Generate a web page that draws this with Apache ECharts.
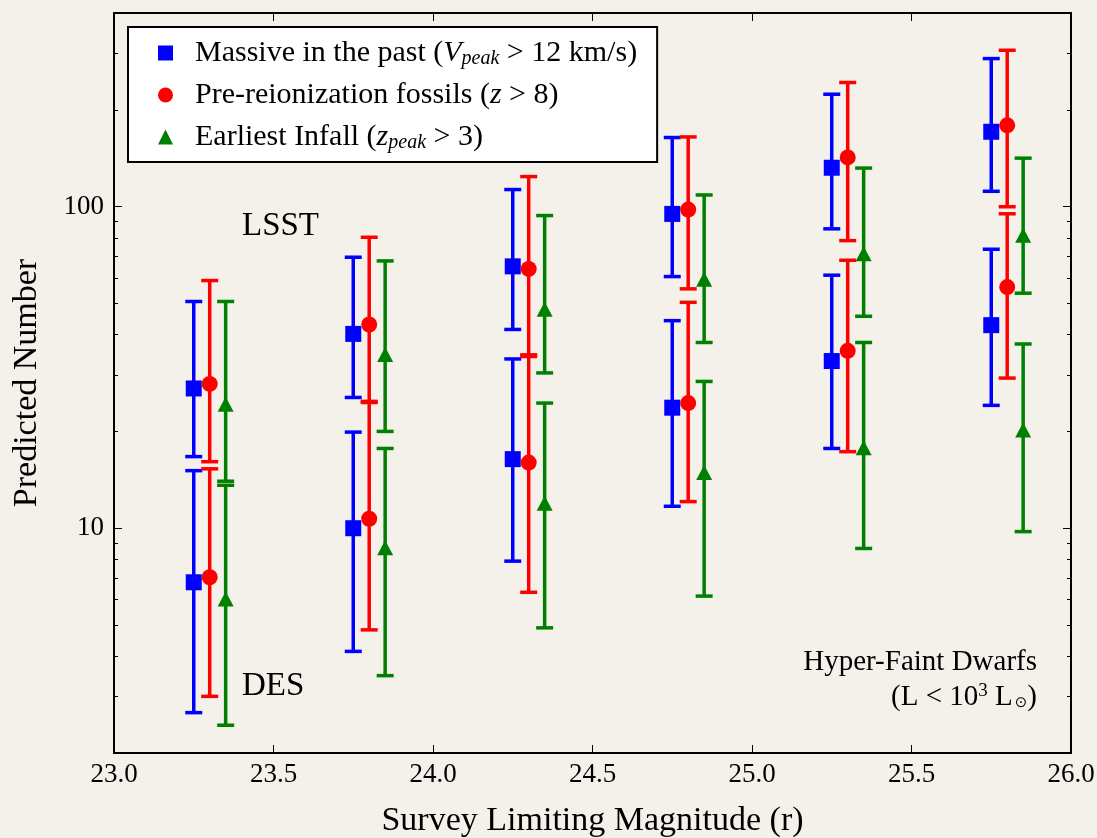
<!DOCTYPE html>
<html>
<head>
<meta charset="utf-8">
<script src="https://cdn.jsdelivr.net/npm/echarts@6/dist/echarts.min.js"></script>
<style>
  html, body { margin: 0; padding: 0; background: #f4f1eb; }
  #chart { width: 1097px; height: 838px; }
</style>
</head>
<body>
<div id="chart"></div>
<script>
// ---- data ----
const magnitudes = [23.25, 23.75, 24.25, 24.75, 25.25, 25.75];
const xTickLabels = ['23.0', '23.5', '24.0', '24.5', '25.0', '25.5', '26.0'];
const yMajorTicks = [10, 100];
const yMinorTicks = [2, 3, 4, 5, 6, 7, 8, 9, 20, 30, 40, 50, 60, 70, 80, 90, 200, 300, 400];

// Massive in the past (blue squares)
const massiveUpper   = [27.2, 40.2, 65.2, 94.9, 132.1, 170.9];
const massiveUpperLo = [16.7, 25.5, 41.5, 60.6, 85.3, 111.6];
const massiveUpperHi = [50.7, 69.6, 113, 164, 223.6, 288.6];
const massiveLower   = [6.79, 10.0, 16.4, 23.7, 33.1, 42.8];
const massiveLowerLo = [2.67, 4.14, 7.90, 11.7, 17.7, 24.1];
const massiveLowerHi = [15.1, 19.9, 33.6, 44.2, 61.2, 73.7];

// Pre-reionization fossils (red circles)
const fossilUpper   = [28.1, 43.0, 64.0, 97.9, 142.2, 179];
const fossilUpperLo = [16.1, 24.8, 34.6, 55.5, 78.4, 99.9];
const fossilUpperHi = [58.9, 80.3, 124, 164.7, 243.2, 306.3];
const fossilLower   = [7.04, 10.7, 16.0, 24.5, 35.6, 56.2];
const fossilLowerLo = [3.0, 4.83, 6.32, 12.1, 17.3, 29.3];
const fossilLowerHi = [15.3, 24.6, 34.2, 50.4, 68.1, 95.0];

// Earliest infall (green triangles)
const infallUpper   = [24.3, 34.7, 48.0, 59.4, 71.3, 81.5];
const infallUpperLo = [14.0, 20.0, 30.4, 37.8, 45.6, 53.8];
const infallUpperHi = [50.7, 67.8, 93.8, 108.7, 131.8, 141.5];
const infallLower   = [6.02, 8.69, 11.96, 14.9, 17.8, 20.2];
const infallLowerLo = [2.44, 3.48, 4.90, 6.15, 8.65, 9.76];
const infallLowerHi = [13.6, 17.7, 24.5, 28.6, 37.8, 37.4];

const offsets = { massive: 0, fossil: 0.05, infall: 0.10 };

// ---- build ----
const FONT = 'Liberation Serif';
const BLUE = '#0000ff', RED = '#ff0000', GREEN = '#008000';

function pts(vals, off) {
  return magnitudes.map((m, i) => [m + off, vals[i]]);
}
function errs(lo, hi, off) {
  return magnitudes.map((m, i) => [m + off, lo[i], hi[i]]);
}
function errRender(color) {
  return function (params, api) {
    const x = api.value(0);
    const pLo = api.coord([x, api.value(1)]);
    const pHi = api.coord([x, api.value(2)]);
    const w = 8.5;
    const style = { stroke: color, lineWidth: 3.5, fill: null };
    return {
      type: 'group',
      children: [
        { type: 'line', shape: { x1: pLo[0], y1: pLo[1], x2: pHi[0], y2: pHi[1] }, style: style },
        { type: 'line', shape: { x1: pLo[0] - w, y1: pLo[1], x2: pLo[0] + w, y2: pLo[1] }, style: style },
        { type: 'line', shape: { x1: pHi[0] - w, y1: pHi[1], x2: pHi[0] + w, y2: pHi[1] }, style: style }
      ]
    };
  };
}
function errSeries(id, lo, hi, off, color) {
  return {
    type: 'custom', name: id, xAxisIndex: 0, yAxisIndex: 0,
    renderItem: errRender(color),
    encode: { x: 0, y: [1, 2] },
    data: errs(lo, hi, off), z: 2, silent: true
  };
}

const NAME_M = 'Massive in the past';
const NAME_F = 'Pre-reionization fossils';
const NAME_I = 'Earliest Infall';

const series = [
  errSeries('eMU', massiveUpperLo, massiveUpperHi, offsets.massive, BLUE),
  errSeries('eML', massiveLowerLo, massiveLowerHi, offsets.massive, BLUE),
  errSeries('eFU', fossilUpperLo, fossilUpperHi, offsets.fossil, RED),
  errSeries('eFL', fossilLowerLo, fossilLowerHi, offsets.fossil, RED),
  errSeries('eIU', infallUpperLo, infallUpperHi, offsets.infall, GREEN),
  errSeries('eIL', infallLowerLo, infallLowerHi, offsets.infall, GREEN),
  { type: 'scatter', name: NAME_M, symbol: 'rect', symbolSize: 16, itemStyle: { color: BLUE, opacity: 1 },
    data: pts(massiveUpper, offsets.massive).concat(pts(massiveLower, offsets.massive)), z: 5 },
  { type: 'scatter', name: NAME_F, symbol: 'circle', symbolSize: 16, itemStyle: { color: RED, opacity: 1 },
    data: pts(fossilUpper, offsets.fossil).concat(pts(fossilLower, offsets.fossil)), z: 5 },
  { type: 'scatter', name: NAME_I, symbol: 'triangle', symbolSize: [16, 15], itemStyle: { color: GREEN, opacity: 1 },
    data: pts(infallUpper, offsets.infall).concat(pts(infallLower, offsets.infall)), z: 5 }
];

const legendRich = {
  g: { width: 17 },
  t: { fontFamily: FONT, fontSize: 30, color: '#000', lineHeight: 30 },
  i: { fontFamily: FONT, fontSize: 30, fontStyle: 'italic', color: '#000', lineHeight: 30 },
  s: { fontFamily: FONT, fontSize: 20, fontStyle: 'italic', color: '#000', lineHeight: 30, padding: [12, 0, 0, 0] }
};
const legendText = {};
legendText[NAME_M] = '{g|}{t|Massive in the past (}{i|V}{s|peak}{t| > 12 km/s)}';
legendText[NAME_F] = '{g|}{t|Pre-reionization fossils (}{i|z}{t| > 8)}';
legendText[NAME_I] = '{g|}{t|Earliest Infall (}{i|z}{s|peak}{t| > 3)}';

const majorTick = { show: true, inside: true, length: 8, lineStyle: { color: '#000', width: 1 } };
const minorTickStyle = { show: true, inside: true, length: 4, lineStyle: { color: '#000', width: 1 } };
const axisLine = { show: true, lineStyle: { color: '#000', width: 2 } };
const gridRect = { left: 114, right: 26, top: 13, bottom: 85, outerBoundsMode: 'none', containLabel: false };

const option = {
  animation: false,
  backgroundColor: '#f4f1eb',
  grid: [Object.assign({ show: false }, gridRect), Object.assign({ show: false }, gridRect)],
  xAxis: [
    { type: 'value', gridIndex: 0, position: 'bottom', min: 23, max: 26, interval: 0.5,
      axisLine: axisLine, axisTick: majorTick, splitLine: { show: false },
      axisLabel: { show: true, margin: 8, color: '#000', fontFamily: FONT, fontSize: 27,
        formatter: function (v) { const k = Math.round((v - 23) / 0.5); return xTickLabels[k] || ''; } },
      name: 'Survey Limiting Magnitude (r)', nameLocation: 'middle', nameGap: 51,
      nameTextStyle: { color: '#000', fontFamily: FONT, fontSize: 34 } },
    { type: 'value', gridIndex: 0, position: 'top', min: 23, max: 26, interval: 0.5,
      axisLine: axisLine, axisTick: majorTick, splitLine: { show: false }, axisLabel: { show: false } },
    { type: 'value', gridIndex: 1, min: 23, max: 26, show: false }
  ],
  yAxis: [
    { type: 'log', logBase: 10, gridIndex: 0, position: 'left', min: 2, max: 400,
      axisLine: axisLine,
      axisTick: Object.assign({ customValues: yMajorTicks }, majorTick),
      splitLine: { show: false }, minorTick: { show: false },
      axisLabel: { show: true, customValues: yMajorTicks, margin: 10, color: '#000', fontFamily: FONT, fontSize: 27 },
      name: 'Predicted Number', nameLocation: 'middle', nameGap: 70, nameRotate: 90,
      nameTextStyle: { color: '#000', fontFamily: FONT, fontSize: 34 } },
    { type: 'log', logBase: 10, gridIndex: 0, position: 'right', min: 2, max: 400,
      axisLine: axisLine,
      axisTick: Object.assign({ customValues: yMajorTicks }, majorTick),
      splitLine: { show: false }, axisLabel: { show: false } },
    { type: 'log', logBase: 10, gridIndex: 1, position: 'left', min: 2, max: 400,
      axisLine: { show: false },
      axisTick: Object.assign({ customValues: yMinorTicks }, minorTickStyle),
      splitLine: { show: false }, axisLabel: { show: false } },
    { type: 'log', logBase: 10, gridIndex: 1, position: 'right', min: 2, max: 400,
      axisLine: { show: false },
      axisTick: Object.assign({ customValues: yMinorTicks }, minorTickStyle),
      splitLine: { show: false }, axisLabel: { show: false } }
  ],
  legend: {
    show: true, orient: 'vertical', left: 128, top: 27,
    data: [NAME_M, NAME_F, NAME_I],
    backgroundColor: '#ffffff', borderColor: '#000', borderWidth: 2, borderRadius: 0,
    padding: [10, 20, 9, 30], itemGap: 11, itemWidth: 15, itemHeight: 15,
    selectedMode: false,
    formatter: function (name) { return legendText[name]; },
    textStyle: { rich: legendRich }
  },
  graphic: [
    { type: 'text', left: 242, top: 210, style: { text: 'LSST', font: '33px "Liberation Serif"', fill: '#000' } },
    { type: 'text', left: 242, top: 670, style: { text: 'DES', font: '33px "Liberation Serif"', fill: '#000' } },
    { type: 'text', right: 60, top: 648, style: { text: 'Hyper-Faint Dwarfs', font: '29px "Liberation Serif"', fill: '#000', align: 'right' } },
    { type: 'text', right: 60, top: 682, style: {
        text: '{t|(L < 10}{u|3}{t| L}{d|⊙}{t|)}',
        fill: '#000', align: 'right',
        rich: {
          t: { fontFamily: FONT, fontSize: 29, lineHeight: 32 },
          u: { fontFamily: FONT, fontSize: 19, lineHeight: 32, padding: [0, 0, 12, 0] },
          d: { fontFamily: 'DejaVu Sans', fontSize: 15, lineHeight: 32, padding: [12, 0, 0, 2] }
        } } }
  ],
  series: series
};

const chart = echarts.init(document.getElementById('chart'), null, { renderer: 'canvas' });
chart.setOption(option);
</script>
</body>
</html>
